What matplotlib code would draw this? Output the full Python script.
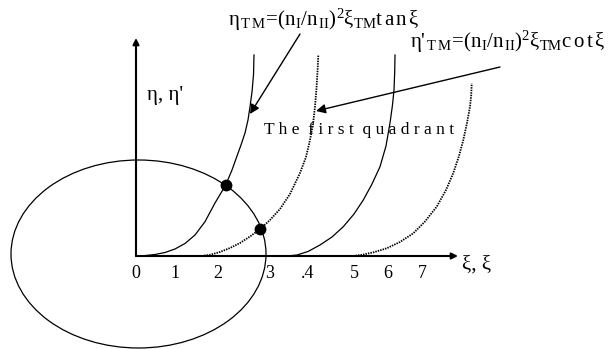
import matplotlib
matplotlib.use('Agg')
import matplotlib.pyplot as plt
from matplotlib.patches import Ellipse

plt.rcParams['font.family'] = ['Liberation Serif', 'DejaVu Serif']
plt.rcParams['mathtext.fontset'] = 'custom'
plt.rcParams['mathtext.rm'] = 'Liberation Serif'
plt.rcParams['mathtext.it'] = 'Liberation Serif:italic'

# curves (units: 1 = 10 px, origin at axis crossing)
tan1_x = [0, 0.9, 1.9, 2.9, 3.9, 4.9, 5.9, 6.9, 7.9, 8.97, 9.6, 10.1, 10.5, 10.9, 11.2, 11.4, 11.6, 11.75, 11.8]
tan1_y = [0, 0.04, 0.15, 0.35, 0.7, 1.25, 2.1, 3.43, 5.3, 7.1, 8.6, 10.0, 11.1, 12.3, 13.6, 14.93, 16.4, 18.1, 20.1]
cot1_x = [6.57, 7.4, 8.4, 9.4, 10.4, 11.4, 12.43, 13.4, 14.4, 15.4, 16.4, 17.0, 17.4, 17.7, 17.9, 18.05, 18.15, 18.23]
cot1_y = [0, 0.12, 0.4, 0.8, 1.3, 1.95, 2.7, 3.6, 4.7, 6.2, 8.3, 9.9, 11.6, 13.2, 14.93, 16.8, 18.4, 20.1]
tan2_x = [15.1, 16.1, 17.2, 18.4, 19.6, 20.73, 21.8, 22.73, 23.6, 24.4, 25.0, 25.4, 25.65, 25.8, 25.87, 25.9]
tan2_y = [0, 0.1, 0.45, 1.1, 1.9, 2.93, 4.2, 5.6, 7.2, 8.93, 11.0, 13.3, 15.1, 16.6, 18.4, 20.1]
cot2_x = [21.7, 22.6, 23.8, 25.07, 26.4, 27.73, 28.9, 30.07, 31.0, 31.73, 32.3, 32.73, 33.1, 33.4, 33.52, 33.57]
cot2_y = [0, 0.12, 0.38, 0.77, 1.4, 2.27, 3.45, 4.93, 6.6, 8.3, 10.0, 11.6, 13.3, 14.93, 16.1, 17.27]

# intersection points
dots_x = [8.97, 12.43]
dots_y = [7.07, 2.7]

# circle xi^2 + eta^2 = V^2 (drawn as ellipse)
circ_center = (0.25, 0.2)
circ_w = 25.5
circ_h = 18.8

tick_pos = [0, 3.9, 8.2, 13.4, 17.2, 21.8, 25.2, 28.6]
tick_lab = ['0', '1', '2', '3', '.4', '5', '6', '7']

fig = plt.figure(figsize=(6.14, 3.49), dpi=100)
ax = fig.add_axes([0, 0, 1, 1])
ax.set_xlim(-13.6, 47.8)
ax.set_ylim(-9.3, 25.6)
ax.axis('off')

ax.add_patch(Ellipse(circ_center, circ_w, circ_h, fill=False, lw=0.9, color='black'))

ax.plot(tan1_x, tan1_y, color='black', lw=0.9)
ax.plot(tan2_x, tan2_y, color='black', lw=0.9)
ax.plot(cot1_x, cot1_y, color='black', lw=1.3, ls=(0, (0.8, 0.6)))
ax.plot(cot2_x, cot2_y, color='black', lw=1.3, ls=(0, (0.8, 0.6)))
ax.plot(dots_x, dots_y, 'o', color='black', ms=7.5)

# axes with arrows
ax.annotate('', xy=(32.2, 0), xytext=(0, 0),
            arrowprops=dict(arrowstyle='-|>', lw=1.5, color='black', mutation_scale=9, shrinkA=0, shrinkB=0))
ax.annotate('', xy=(0, 21.8), xytext=(0, 0),
            arrowprops=dict(arrowstyle='-|>', lw=1.5, color='black', mutation_scale=9, shrinkA=0, shrinkB=0))

for p, l in zip(tick_pos, tick_lab):
    ax.text(p, -1.75, l, ha='center', va='center', fontsize=13)

ax.text(32.6, -0.9, 'ξ, ξ', ha='left', va='center', fontsize=15)
ax.text(1.1, 16.1, "η, η'", ha='left', va='center', fontsize=15)

ax.text(12.8, 12.6, 'T h e  f i r s t  q u a d r a n t', ha='left', va='center', fontsize=12.5)

ax.text(9.2, 23.6, r'$\mathrm{η_{\,T\,M}\!=\!(n_{I}/n_{\,II})^{2}ξ_{TM}t\,a\,n\,ξ}$',
        ha='left', va='center', fontsize=15)
ax.text(27.4, 21.4, r"$\text{η'}_{\,\mathrm{T\,M}}\mathrm{\!=\!(n_{I}/n_{\,II})^{2}ξ_{TM}c\,o\,t\,ξ}$",
        ha='left', va='center', fontsize=15)

ax.annotate('', xy=(11.4, 14.2), xytext=(16.4, 22.2),
            arrowprops=dict(arrowstyle='-|>', lw=1.0, color='black', mutation_scale=14, shrinkA=0, shrinkB=0))
ax.annotate('', xy=(18.0, 14.5), xytext=(36.4, 18.9),
            arrowprops=dict(arrowstyle='-|>', lw=1.0, color='black', mutation_scale=14, shrinkA=0, shrinkB=0))

fig.savefig('out.png', dpi=100)
